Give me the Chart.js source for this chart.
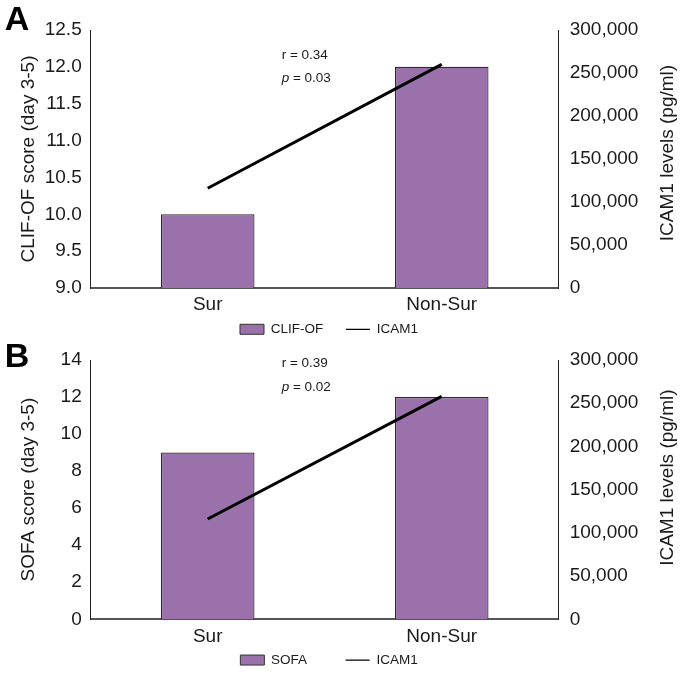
<!DOCTYPE html>
<html>
<head>
<meta charset="utf-8">
<script src="https://cdn.jsdelivr.net/npm/chart.js@4.4.1/dist/chart.umd.min.js"></script>
<style>
  body { margin: 0; background: #fff; }
  #wrap { position: relative; width: 692px; height: 676px; overflow: hidden; }
  canvas { position: absolute; left: 0; }
</style>
</head>
<body>
<div id="wrap">
  <canvas id="chartA" width="692" height="360" style="top:0"></canvas>
  <canvas id="chartB" width="692" height="380" style="top:330px"></canvas>
</div>
<script>
// values
var groups = ['Sur', 'Non-Sur'];
var clifScore = [10.0, 12.0];
var sofaScore = [9.0, 12.0];
var icamA = [116000, 260000];
var icamB = [116000, 258000];
var statsA = ['0.34', '0.03'];
var statsB = ['0.39', '0.02'];

var FONT = "'Liberation Sans', Arial, sans-serif";
var TEXT = '#1a1a1a';
var BAR = '#9a71ab';

// letter, right axis title and r / p annotation
var overlay = {
    id: 'overlay',
    afterLayout: function(chart, args, o) {
        // pull the legend up closer to the category labels
        chart.legend.top += o.legendShift;
        chart.legend.bottom += o.legendShift;
    },
    afterDraw: function(chart, args, o) {
        var ctx = chart.ctx;
        var area = chart.chartArea;
        ctx.save();
        ctx.fillStyle = '#000';
        ctx.textAlign = 'center';
        ctx.textBaseline = 'middle';
        ctx.font = 'bold 34px ' + FONT;
        ctx.fillText(o.letter, 17, o.letterY);

        ctx.fillStyle = TEXT;
        ctx.font = '13.5px ' + FONT;
        ctx.textAlign = 'left';
        var x = area.left + 191;
        ctx.fillText('r = ' + o.stats[0], x, area.top + o.statsY);
        ctx.font = 'italic 13.5px ' + FONT;
        ctx.fillText('p', x, area.top + o.statsY + 23.5);
        var pw = ctx.measureText('p').width;
        ctx.font = '13.5px ' + FONT;
        ctx.fillText(' = ' + o.stats[1], x + pw, area.top + o.statsY + 23.5);

        ctx.font = '19px ' + FONT;
        ctx.textAlign = 'center';
        ctx.translate(area.right + 109, (area.top + area.bottom) / 2 - o.titleShift);
        ctx.rotate(-Math.PI / 2);
        ctx.fillText('ICAM1 levels (pg/ml)', 0, 0);
        ctx.restore();
    }
};

function makePanel(id, barLabel, scores, icam, yMin, yMax, yStep, decimals, yTitle, opts) {
    var ctx = document.getElementById(id);
    return new Chart(ctx, {
        type: 'bar',
        data: {
            labels: groups,
            datasets: [{
                label: barLabel,
                data: scores,
                backgroundColor: BAR,
                borderColor: '#2a2a2a',
                borderWidth: 1.2,
                barPercentage: 0.4,
                categoryPercentage: 1,
                yAxisID: 'y',
                order: 2
            }, {
                type: 'line',
                label: 'ICAM1',
                data: icam,
                borderColor: '#000',
                borderWidth: 3,
                pointRadius: 0,
                fill: false,
                yAxisID: 'y1',
                order: 1
            }]
        },
        options: {
            responsive: false,
            animation: false,
            layout: { padding: { top: 30, left: 0, right: 34, bottom: opts.padBottom } },
            plugins: {
                tooltip: { enabled: false },
                overlay: opts,
                legend: {
                    position: 'bottom',
                    labels: {
                        usePointStyle: true,
                        pointStyleWidth: 24,
                        boxHeight: 10,
                        padding: opts.legendPad,
                        color: TEXT,
                        font: { family: FONT, size: 13.5 },
                        sort: function(a, b) { return a.datasetIndex - b.datasetIndex; },
                        generateLabels: function(chart) {
                            var items = Chart.defaults.plugins.legend.labels.generateLabels(chart);
                            items.forEach(function(it) {
                                if (it.datasetIndex === 0) {
                                    it.pointStyle = 'rect';
                                    it.fillStyle = BAR;
                                    it.strokeStyle = '#333';
                                    it.lineWidth = 1;
                                } else {
                                    it.pointStyle = 'line';
                                    it.strokeStyle = '#000';
                                    it.lineWidth = 1.2;
                                }
                            });
                            return items;
                        }
                    }
                }
            },
            scales: {
                x: {
                    z: 1,
                    grid: { display: false, drawTicks: false },
                    border: { display: true, color: '#555', width: 2 },
                    ticks: { color: TEXT, padding: 5.6, font: { family: FONT, size: 19 } },
                    afterFit: function(s) { s.height = 25; }
                },
                y: {
                    position: 'left',
                    min: yMin,
                    max: yMax,
                    grid: { display: false, drawTicks: false },
                    border: { display: true, color: '#222', width: 1 },
                    ticks: {
                        stepSize: yStep,
                        padding: 9,
                        color: TEXT,
                        font: { family: FONT, size: 19 },
                        callback: function(v) { return v.toFixed(decimals); }
                    },
                    title: {
                        display: true,
                        text: yTitle,
                        color: TEXT,
                        padding: { top: 17.5, bottom: 0 },
                        font: { family: FONT, size: 19 }
                    },
                    afterFit: function(s) { s.width = 90.7; }
                },
                y1: {
                    position: 'right',
                    min: 0,
                    max: 300000,
                    grid: { display: false, drawTicks: false },
                    border: { display: true, color: '#222', width: 1 },
                    ticks: {
                        stepSize: 50000,
                        padding: 11,
                        color: TEXT,
                        font: { family: FONT, size: 19 },
                        callback: function(v) { return v.toLocaleString('en-US'); }
                    },
                    afterFit: function(s) { s.width = 658 - 558.7; }
                }
            }
        },
        plugins: [overlay]
    });
}

makePanel('chartA', 'CLIF-OF', clifScore, icamA, 9, 12.5, 0.5, 1, 'CLIF-OF score (day 3-5)',
    { letter: 'A', letterY: 20.5, stats: statsA, statsY: 25, titleShift: 6,
      legendPad: 22.75, padBottom: 0.75, legendShift: -13.2 });
makePanel('chartB', 'SOFA', sofaScore, icamB, 0, 14, 2, 0, 'SOFA score (day 3-5)',
    { letter: 'B', letterY: 27.5, stats: statsB, statsY: 3.3, titleShift: 12,
      legendPad: 38.5, padBottom: 3.7, legendShift: -29.5 });
</script>
</body>
</html>
